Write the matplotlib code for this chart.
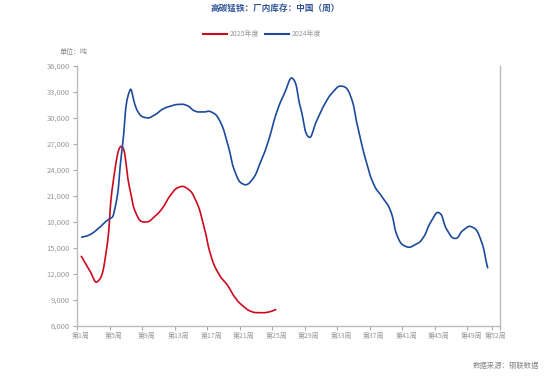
import numpy as np
import matplotlib
matplotlib.use("Agg")
import matplotlib.pyplot as plt

plt.rcParams['font.family'] = ['Noto Sans CJK SC', 'DejaVu Sans']

weeks_2025 = list(range(1, 26))
stock_2025 = [14100, 12500, 11100, 14000, 23000, 26700, 21800, 18500, 18000, 18600,
              19600, 21100, 22000, 21900, 20700, 17900, 14000, 11900, 10700, 9200,
              8230, 7650, 7540, 7600, 7920]

weeks_2024 = list(range(1, 52))
stock_2024 = [16230, 16500, 17150, 18030, 18900, 26000, 33200, 30700, 30030, 30330,
              31000, 31370, 31570, 31450, 30800, 30700, 30700, 29760, 27070, 23600,
              22340, 22840, 24760, 27260, 30530, 32840, 34570, 31100, 27800, 29760,
              31690, 33030, 33680, 32840, 29000, 25150, 22300, 20900, 19400, 16100,
              15150, 15340, 16110, 18000, 19070, 17070, 16100, 17070, 17450, 16300,
              12650]

label_weeks = [1, 5, 9, 13, 17, 21, 25, 29, 33, 37, 41, 45, 49, 52]
y_ticks = list(range(6000, 36001, 3000))

RED = '#cc0a1e'
BLUE = '#1c4a9c'
GRAY = '#999999'


def smooth_curve(xs, ys, sx=8.13, sy=8.67 / 1000, smooth=0.5, n=20):
    # echarts-like bezier smoothing, done in pixel-ish space
    p = np.column_stack([np.array(xs, float) * sx, np.array(ys, float) * sy])
    out = [p[0]]
    m = len(p)
    cps = []
    for i in range(m):
        prev = p[max(i - 1, 0)]
        nxt = p[min(i + 1, m - 1)]
        v = (nxt - prev) * smooth
        d0 = np.hypot(*(p[i] - prev))
        d1 = np.hypot(*(nxt - p[i]))
        s = d0 + d1
        if s == 0:
            s = 1
        cps.append((p[i] - v * d0 / s, p[i] + v * d1 / s))
    t = np.linspace(0, 1, n)[1:, None]
    for i in range(m - 1):
        a, b = p[i], p[i + 1]
        c1, c2 = cps[i][1], cps[i + 1][0]
        seg = ((1 - t) ** 3) * a + 3 * ((1 - t) ** 2) * t * c1 + 3 * (1 - t) * t ** 2 * c2 + t ** 3 * b
        out.extend(seg)
    out = np.array(out)
    return out[:, 0] / sx, out[:, 1] / sy


fig = plt.figure(figsize=(5.5, 3.76), dpi=100)
ax = fig.add_axes([77 / 550, 1 - 326 / 376, 423 / 550, 260 / 376])

x, y = smooth_curve(weeks_2025, stock_2025)
ax.plot(x, y, color=RED, lw=1.2, solid_capstyle='butt')
x, y = smooth_curve(weeks_2024, stock_2024)
ax.plot(x, y, color=BLUE, lw=1.2, solid_capstyle='butt')

ax.set_xlim(0.5, 52.5)
ax.set_ylim(6000, 36000)

# ticks on category boundaries, labels on category centres
ax.set_xticks([0.5 + k for k in range(0, 52, 4)] + [51.5, 52.5])
ax.set_xticklabels([])
ax.set_xticks(label_weeks, minor=True)
ax.set_xticklabels([f'第{w}周' for w in label_weeks], minor=True)
ax.tick_params(axis='x', which='major', length=3, width=0.8, color='#aaaaaa')
ax.tick_params(axis='x', which='minor', length=0, pad=4, labelsize=5, labelcolor=GRAY)

ax.set_yticks(y_ticks)
ax.set_yticklabels([f'{v:,}' for v in y_ticks])
ax.tick_params(axis='y', length=3, width=0.8, color='#aaaaaa', labelsize=5.5,
               labelcolor=GRAY, pad=2)

for side in ['left', 'bottom', 'right']:
    ax.spines[side].set_color('#bbbbbb')
    ax.spines[side].set_linewidth(1.0)
ax.spines['top'].set_visible(False)

fig.text(0.5, 1 - 8 / 376, '高碳锰铁：厂内库存：中国（周）', ha='center', va='center',
         fontsize=6.2, fontweight='bold', color='#2f5597')

# legend
fig.add_artist(plt.Line2D([203 / 550, 227 / 550], [1 - 34 / 376] * 2, color=RED, lw=1.5))
fig.text(230 / 550, 1 - 34 / 376, '2025年度', ha='left', va='center', fontsize=5, color=GRAY)
fig.add_artist(plt.Line2D([265 / 550, 289 / 550], [1 - 34 / 376] * 2, color=BLUE, lw=1.5))
fig.text(292 / 550, 1 - 34 / 376, '2024年度', ha='left', va='center', fontsize=5, color=GRAY)

fig.text(60 / 550, 1 - 52 / 376, '单位：吨', ha='left', va='center', fontsize=5, color='#888888')
fig.text(539 / 550, 1 - 366 / 376, '数据来源：钢联数据', ha='right', va='center', fontsize=5.3,
         color='#888888')

fig.savefig('out.png', dpi=100)
